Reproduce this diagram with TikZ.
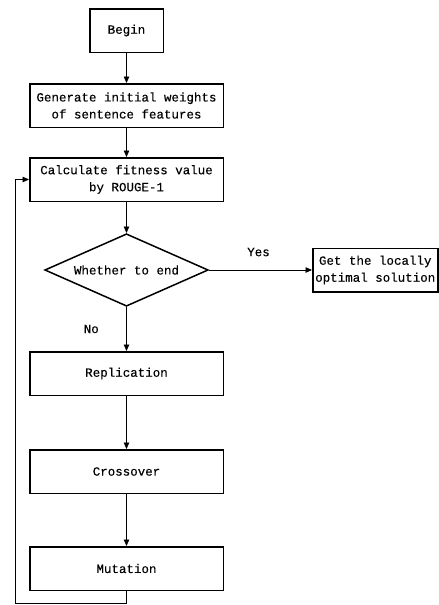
\documentclass[tikz,border=0pt]{standalone}
\usepackage{fontspec}
\setmainfont{Liberation Mono}[FakeBold=0.25]
\usepackage{tikz}
\usetikzlibrary{arrows.meta,positioning,shapes.geometric}

\begin{document}
\begin{tikzpicture}[
    x=1pt, y=1pt,
    >={Triangle[length=6.5pt,width=5.5pt]},
    node distance=30pt and 103pt,
    block/.style={rectangle, draw, line width=1.5pt, minimum height=43.5pt, minimum width=193.5pt, inner sep=2pt, font=\fontsize{12.5}{17}\selectfont, align=center},
    decision/.style={diamond, draw, line width=1.5pt, minimum width=163.5pt, minimum height=72.5pt, aspect=2.2, inner sep=0pt, font=\fontsize{12.5}{17}\selectfont},
    pipe/.style={->, line width=0.8pt},
    label/.style={font=\fontsize{12.5}{17}\selectfont},
]
\useasboundingbox (0,0) rectangle (439,-605);

% --- Main column ---
\node[block, minimum width=73.5pt] (begin) at (126.5,-30.5) {Begin};
\node[block, below=30pt of begin] (init) {Generate initial weights\\of sentence features};
\node[block, below=29pt of init] (fitness) {Calculate fitness value\\by ROUGE-1};
\node[decision, below=31pt of fitness] (check) {Whether to end};
\node[block, below=44pt of check] (repl) {Replication};
\node[block, below=53pt of repl] (cross) {Crossover};
\node[block, below=52pt of cross] (mut) {Mutation};

% --- Exit ---
\node[block, minimum width=125pt, inner sep=1pt, right=103pt of check] (result) {Get the locally\\optimal solution};

% --- Arrows ---
\draw[pipe] (begin) -- (init);
\draw[pipe] (init) -- (fitness);
\draw[pipe] (fitness) -- (check);
\draw[pipe] (check) -- node[left, label, xshift=-24pt] {No} (repl);
\draw[pipe] (repl) -- (cross);
\draw[pipe] (cross) -- (mut);
\draw[pipe] (check.east) -- node[above, label, yshift=10pt, xshift=-2pt] {Yes} (result.west);

% --- Loop back ---
\draw[pipe] (mut.south) -- ++(0,-12) -| ([xshift=-14pt]fitness.west) -- (fitness.west);

\end{tikzpicture}
\end{document}
